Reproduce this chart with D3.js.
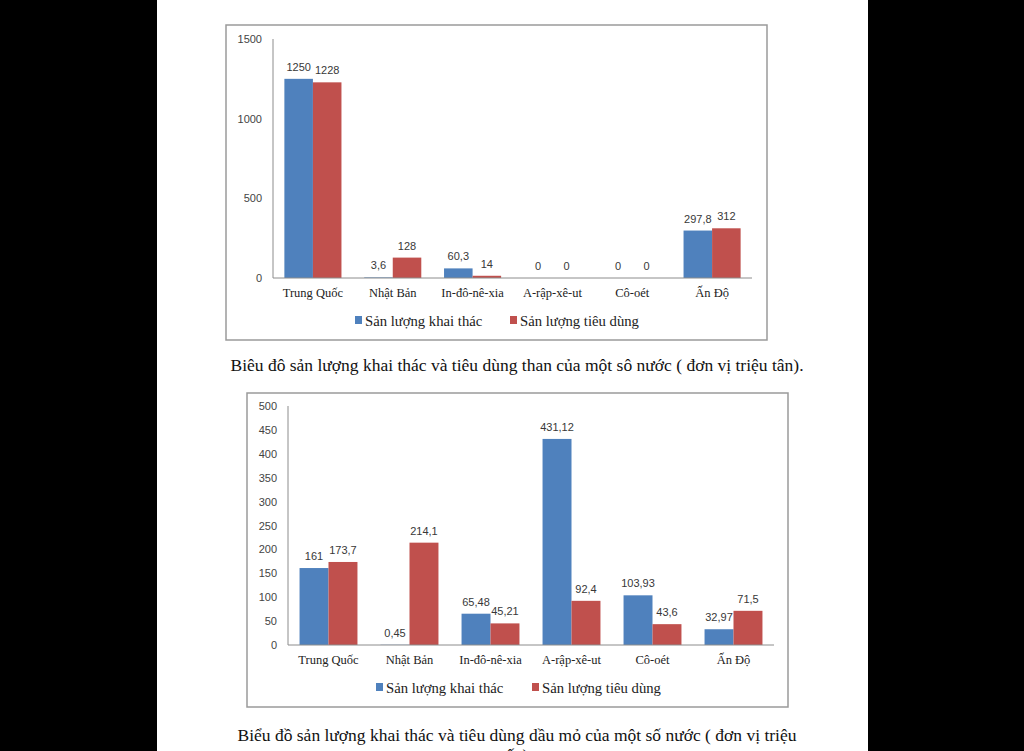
<!DOCTYPE html>
<html lang="vi">
<head>
<meta charset="UTF-8">
<title>Biểu đồ than và dầu mỏ</title>
<script src="https://d3js.org/d3.v7.min.js"></script>
<style>
  html, body { margin: 0; padding: 0; background: #000; }
  svg { display: block; }
  .frame { fill: none; stroke: #9a9a9a; stroke-width: 1.5px; }
  .axisline { stroke: #8c8c8c; stroke-width: 1px; }
  .tick { font: 11px "Liberation Sans", sans-serif; fill: #444; }
  .val { font: 11px "Liberation Sans", sans-serif; fill: #383838; }
  .cat { font: 12.5px "Liberation Serif", serif; fill: #222; }
  .leg { font: 14.7px "Liberation Serif", serif; fill: #222; }
  .cap { font: 17.5px "Liberation Serif", serif; fill: #111; }
</style>
</head>
<body>
<svg width="1024" height="751"></svg>
<script>
// dữ liệu
const countries = ["Trung Quốc", "Nhật Bản", "In-đô-nê-xia", "A-rập-xê-ut", "Cô-oét", "Ấn Độ"];
const seriesNames = ["Sản lượng khai thác", "Sản lượng tiêu dùng"];
const colors = ["#4F81BD", "#C0504D"];

// than (triệu tấn)
const coalMined = [1250, 3.6, 60.3, 0, 0, 297.8];
const coalUsed = [1228, 128, 14, 0, 0, 312];
const coalTicks = [0, 500, 1000, 1500];

// dầu mỏ
const oilMined = [161, 0.45, 65.48, 431.12, 103.93, 32.97];
const oilUsed = [173.7, 214.1, 45.21, 92.4, 43.6, 71.5];
const oilTicks = [0, 50, 100, 150, 200, 250, 300, 350, 400, 450, 500];

const captions = [
  ["Biêu đô sản lượng khai thác và tiêu dùng than của một sô nước ( đơn vị triệu tân)."],
  ["Biểu đồ sản lượng khai thác và tiêu dùng dầu mỏ của một số nước ( đơn vị triệu", "tấn)."]
];

const svg = d3.select("svg");

// trang giấy trắng
svg.append("rect").attr("x", 157).attr("y", 0).attr("width", 711).attr("height", 751).attr("fill", "#fff");

const fmt = v => String(v).replace(".", ",");

function drawChart(o) {
  const g = svg.append("g");
  g.append("rect").attr("class", "frame")
    .attr("x", o.frame[0]).attr("y", o.frame[1])
    .attr("width", o.frame[2] - o.frame[0]).attr("height", o.frame[3] - o.frame[1]);

  const x = d3.scaleBand().domain(countries).range([o.left, o.right])
    .paddingInner(0.285).paddingOuter(0.1425);
  const xs = d3.scaleBand().domain([0, 1]).range([0, x.bandwidth()]);
  const y = d3.scaleLinear().domain([0, d3.max(o.ticks)]).range([o.bottom, o.top]);

  // trục
  g.append("line").attr("class", "axisline")
    .attr("x1", o.left).attr("x2", o.left).attr("y1", y(d3.max(o.ticks))).attr("y2", o.bottom);
  g.selectAll(".tick").data(o.ticks).enter().append("text")
    .attr("class", "tick")
    .attr("x", o.left - 11).attr("y", d => y(d) + 4)
    .attr("text-anchor", "end")
    .text(d => d);

  const series = [o.a, o.b];
  series.forEach((vals, s) => {
    g.selectAll(".bar" + s).data(vals).enter().append("rect")
      .attr("x", (d, i) => x(countries[i]) + xs(s))
      .attr("width", xs.bandwidth())
      .attr("y", d => y(d))
      .attr("height", d => o.bottom - y(d))
      .attr("fill", colors[s]);
    g.selectAll(".val" + s).data(vals).enter().append("text")
      .attr("class", "val")
      .attr("x", (d, i) => x(countries[i]) + xs(s) + xs.bandwidth() / 2)
      .attr("y", d => y(d) - 8)
      .attr("text-anchor", "middle")
      .text(d => fmt(d));
  });

  g.append("line").attr("class", "axisline")
    .attr("x1", o.left).attr("x2", o.right).attr("y1", o.bottom).attr("y2", o.bottom);

  g.selectAll(".cat").data(countries).enter().append("text")
    .attr("class", "cat")
    .attr("x", d => x(d) + x.bandwidth() / 2)
    .attr("y", o.bottom + 19)
    .attr("text-anchor", "middle")
    .text(d => d);

  // chú giải
  seriesNames.forEach((n, s) => {
    g.append("rect").attr("x", o.legX[s]).attr("y", o.legY - 5)
      .attr("width", 7).attr("height", 8).attr("fill", colors[s]);
    g.append("text").attr("class", "leg")
      .attr("x", o.legX[s] + 10).attr("y", o.legY + 4.5)
      .text(n);
  });

  // chú thích (dòng thứ hai bị cắt ở mép dưới như ảnh gốc)
  o.caption.forEach((line, k) => {
    svg.append("text").attr("class", "cap")
      .attr("x", 517).attr("y", o.capY + k * 20)
      .attr("text-anchor", "middle")
      .text(line);
  });
}

drawChart({
  a: coalMined, b: coalUsed, ticks: coalTicks,
  frame: [226, 25, 767, 340],
  left: 273, right: 752, top: 39, bottom: 278,
  legX: [355, 510], legY: 321,
  caption: captions[0], capY: 371
});

drawChart({
  a: oilMined, b: oilUsed, ticks: oilTicks,
  frame: [247, 393, 788, 707],
  left: 288, right: 774, top: 406, bottom: 645,
  legX: [376, 532], legY: 688,
  caption: captions[1], capY: 741
});
</script>
</body>
</html>
